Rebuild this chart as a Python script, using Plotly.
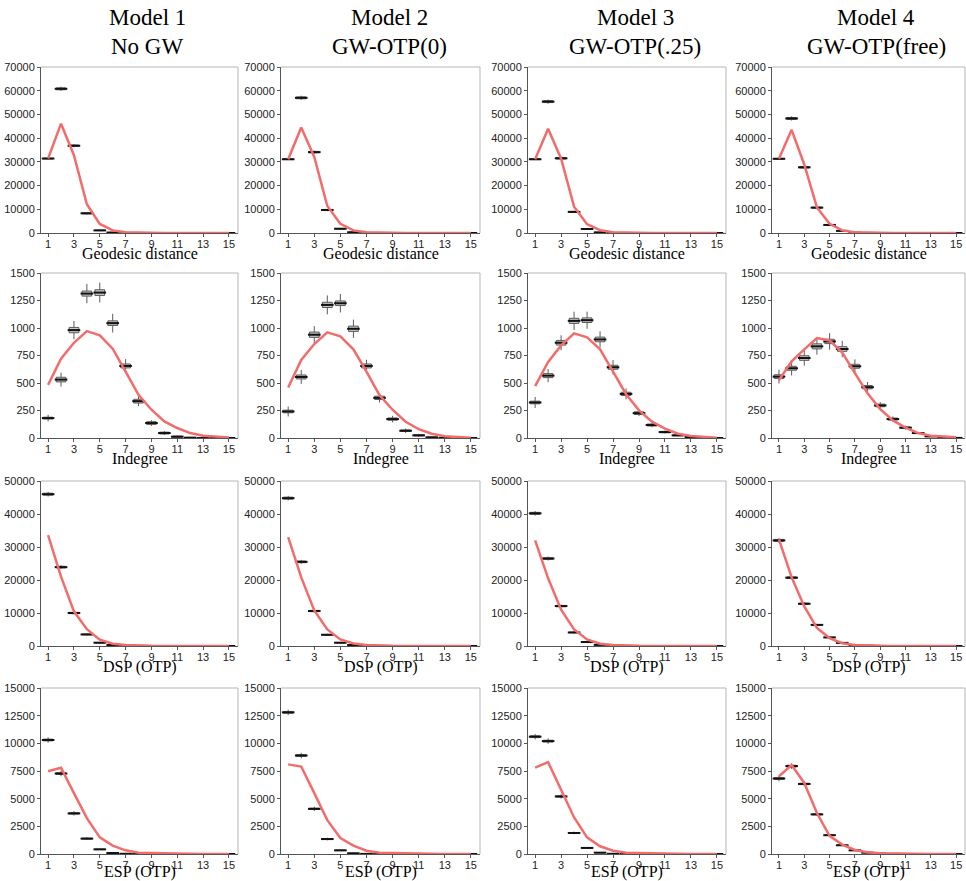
import plotly.graph_objects as go

W, H = 966, 881

x_vals = list(range(1, 16))
x_ticks = [1, 3, 5, 7, 9, 11, 13, 15]

col_titles_top = ["Model 1", "Model 2", "Model 3", "Model 4"]
col_titles_bottom = ["No GW", "GW-OTP(0)", "GW-OTP(.25)", "GW-OTP(free)"]
row_titles = ["Geodesic distance", "Indegree", "DSP (OTP)", "ESP (OTP)"]
y_max = [70000, 1500, 50000, 15000]
y_dtick = [10000, 250, 10000, 2500]

# ---------------- Geodesic distance ----------------
geo_med_m1 = [31400, 60800, 36800, 8300, 1100, 200, 30, 0, 0, 0, 0, 0, 0, 0, 0]
geo_med_m2 = [31100, 57000, 34100, 9700, 1800, 300, 40, 0, 0, 0, 0, 0, 0, 0, 0]
geo_med_m3 = [31100, 55400, 31500, 8900, 1700, 250, 30, 0, 0, 0, 0, 0, 0, 0, 0]
geo_med_m4 = [31300, 48300, 27700, 10700, 3400, 900, 150, 20, 0, 0, 0, 0, 0, 0, 0]
geo_box_half = [150, 400, 300, 200, 100, 30, 10, 0, 0, 0, 0, 0, 0, 0, 0]
geo_whisk_half = [300, 900, 700, 500, 250, 80, 20, 0, 0, 0, 0, 0, 0, 0, 0]
geo_obs_m1 = [31400, 46100, 32800, 12100, 3800, 1100, 300, 100, 30, 10, 0, 0, 0, 0, 0]
geo_obs_m2 = [31100, 44500, 32100, 11400, 3900, 1100, 300, 100, 30, 10, 0, 0, 0, 0, 0]
geo_obs_m3 = [31100, 44000, 31300, 11100, 3700, 1200, 300, 100, 30, 10, 0, 0, 0, 0, 0]
geo_obs_m4 = [31300, 43500, 28900, 10800, 3900, 1100, 300, 100, 30, 10, 0, 0, 0, 0, 0]

# ---------------- Indegree ----------------
ind_med_m1 = [181, 531, 981, 1313, 1322, 1044, 655, 335, 136, 45, 12, 3, 0, 0, 0]
ind_med_m2 = [241, 555, 939, 1210, 1225, 993, 655, 365, 172, 66, 24, 6, 1, 0, 0]
ind_med_m3 = [323, 567, 866, 1065, 1071, 896, 643, 401, 226, 118, 54, 24, 9, 3, 0]
ind_med_m4 = [558, 634, 727, 833, 878, 809, 652, 462, 296, 172, 94, 45, 15, 6, 1]
ind_box_half_m1 = [8, 21, 24, 23, 26, 21, 18, 17, 12, 8, 5, 2, 1, 0, 0]
ind_box_half_m2 = [12, 18, 24, 24, 21, 24, 18, 15, 10, 7, 5, 2, 1, 0, 0]
ind_box_half_m3 = [12, 18, 21, 23, 21, 21, 18, 15, 12, 9, 6, 4, 2, 1, 0]
ind_box_half_m4 = [17, 18, 21, 23, 20, 21, 18, 15, 12, 9, 7, 5, 3, 1, 0]
ind_whisk_half_m1 = [30, 63, 83, 88, 90, 85, 62, 45, 27, 18, 10, 5, 2, 0, 0]
ind_whisk_half_m2 = [45, 63, 78, 86, 84, 83, 56, 42, 30, 20, 12, 6, 3, 1, 0]
ind_whisk_half_m3 = [50, 60, 68, 83, 78, 74, 66, 50, 27, 20, 14, 8, 5, 2, 0]
ind_whisk_half_m4 = [63, 66, 70, 75, 75, 74, 63, 47, 30, 24, 18, 10, 6, 3, 1]
ind_obs_m1 = [483, 721, 866, 972, 933, 812, 604, 392, 257, 151, 91, 45, 21, 12, 5]
ind_obs_m2 = [459, 709, 854, 960, 924, 806, 604, 389, 257, 148, 81, 39, 15, 6, 2]
ind_obs_m3 = [471, 691, 842, 951, 915, 806, 604, 398, 251, 148, 85, 39, 18, 9, 3]
ind_obs_m4 = [525, 697, 806, 908, 887, 776, 589, 407, 263, 160, 94, 45, 21, 12, 6]

# ---------------- DSP (OTP) ----------------
dsp_med_m1 = [46000, 23900, 10000, 3500, 1000, 300, 100, 30, 0, 0, 0, 0, 0, 0, 0]
dsp_med_m2 = [44800, 25500, 10600, 3400, 1000, 300, 80, 20, 0, 0, 0, 0, 0, 0, 0]
dsp_med_m3 = [40200, 26500, 12100, 4100, 1200, 350, 100, 30, 0, 0, 0, 0, 0, 0, 0]
dsp_med_m4 = [32000, 20700, 12800, 6400, 2600, 950, 300, 100, 30, 0, 0, 0, 0, 0, 0]
dsp_box_half = [300, 250, 200, 100, 50, 20, 10, 0, 0, 0, 0, 0, 0, 0, 0]
dsp_whisk_half = [700, 600, 450, 300, 150, 60, 20, 0, 0, 0, 0, 0, 0, 0, 0]
dsp_obs_m1 = [33600, 21000, 10500, 5100, 1900, 700, 300, 100, 40, 20, 10, 0, 0, 0, 0]
dsp_obs_m2 = [33000, 20800, 10800, 5000, 2000, 750, 300, 100, 40, 20, 10, 0, 0, 0, 0]
dsp_obs_m3 = [32000, 20500, 11000, 5000, 2000, 700, 300, 100, 40, 20, 10, 0, 0, 0, 0]
dsp_obs_m4 = [32300, 20800, 12000, 5500, 2400, 850, 300, 100, 40, 20, 10, 0, 0, 0, 0]

# ---------------- ESP (OTP) ----------------
esp_med_m1 = [10300, 7270, 3670, 1390, 420, 90, 20, 0, 0, 0, 0, 0, 0, 0, 0]
esp_med_m2 = [12800, 8900, 4080, 1350, 330, 60, 10, 0, 0, 0, 0, 0, 0, 0, 0]
esp_med_m3 = [10600, 10200, 5200, 1900, 550, 120, 20, 0, 0, 0, 0, 0, 0, 0, 0]
esp_med_m4 = [6820, 7940, 6330, 3580, 1700, 790, 330, 120, 40, 10, 0, 0, 0, 0, 0]
esp_box_half = [80, 80, 60, 40, 20, 10, 5, 0, 0, 0, 0, 0, 0, 0, 0]
esp_whisk_half = [250, 250, 200, 120, 60, 30, 10, 0, 0, 0, 0, 0, 0, 0, 0]
esp_obs_m1 = [7480, 7790, 5500, 3240, 1500, 760, 330, 120, 80, 50, 30, 20, 10, 5, 0]
esp_obs_m2 = [8100, 7900, 5500, 3060, 1440, 750, 300, 120, 80, 50, 30, 20, 10, 5, 0]
esp_obs_m3 = [7800, 8300, 5800, 3300, 1500, 700, 300, 120, 80, 50, 30, 20, 10, 5, 0]
esp_obs_m4 = [7030, 8030, 6420, 3700, 1640, 850, 360, 150, 60, 30, 20, 10, 5, 0, 0]

panels = [
    [(geo_med_m1, geo_box_half, geo_whisk_half, geo_obs_m1),
     (geo_med_m2, geo_box_half, geo_whisk_half, geo_obs_m2),
     (geo_med_m3, geo_box_half, geo_whisk_half, geo_obs_m3),
     (geo_med_m4, geo_box_half, geo_whisk_half, geo_obs_m4)],
    [(ind_med_m1, ind_box_half_m1, ind_whisk_half_m1, ind_obs_m1),
     (ind_med_m2, ind_box_half_m2, ind_whisk_half_m2, ind_obs_m2),
     (ind_med_m3, ind_box_half_m3, ind_whisk_half_m3, ind_obs_m3),
     (ind_med_m4, ind_box_half_m4, ind_whisk_half_m4, ind_obs_m4)],
    [(dsp_med_m1, dsp_box_half, dsp_whisk_half, dsp_obs_m1),
     (dsp_med_m2, dsp_box_half, dsp_whisk_half, dsp_obs_m2),
     (dsp_med_m3, dsp_box_half, dsp_whisk_half, dsp_obs_m3),
     (dsp_med_m4, dsp_box_half, dsp_whisk_half, dsp_obs_m4)],
    [(esp_med_m1, esp_box_half, esp_whisk_half, esp_obs_m1),
     (esp_med_m2, esp_box_half, esp_whisk_half, esp_obs_m2),
     (esp_med_m3, esp_box_half, esp_whisk_half, esp_obs_m3),
     (esp_med_m4, esp_box_half, esp_whisk_half, esp_obs_m4)],
]

# layout geometry (pixels)
col_px = [(41, 238), (281, 480), (528, 726), (772, 965)]
row_px = [(67, 233), (273, 438), (481, 646), (688, 854)]
title_gap = [21, 21, 21, 18]

TICK_FONT = dict(family="Liberation Sans, Arial, sans-serif", size=11, color="#222222")
SERIF = "Liberation Serif, Times New Roman, serif"
RED = "#F26C6C"

fig = go.Figure()
layout = dict(
    width=W, height=H, autosize=False,
    margin=dict(l=0, r=0, t=0, b=0, autoexpand=False),
    paper_bgcolor="white", plot_bgcolor="white",
    showlegend=False,
)
shapes = []
annotations = []

for r in range(4):
    for c in range(4):
        idx = r * 4 + c + 1
        xa = "x" if idx == 1 else f"x{idx}"
        ya = "y" if idx == 1 else f"y{idx}"
        xkey = "xaxis" if idx == 1 else f"xaxis{idx}"
        ykey = "yaxis" if idx == 1 else f"yaxis{idx}"
        med, bh, wh, obs = panels[r][c]
        q1 = [max(0, m - b) for m, b in zip(med, bh)]
        q3 = [m + b for m, b in zip(med, bh)]
        lo = [max(0, m - w) for m, w in zip(med, wh)]
        hi = [m + w for m, w in zip(med, wh)]
        fig.add_trace(go.Box(
            x=x_vals, q1=q1, median=med, q3=q3, lowerfence=lo, upperfence=hi,
            width=0.75, whiskerwidth=0, fillcolor="#c8c8c8",
            line=dict(color="#5a5a5a", width=1),
            boxpoints=False, xaxis=xa, yaxis=ya, hoverinfo="skip",
        ))
        fig.add_trace(go.Scatter(
            x=x_vals, y=med, mode="markers",
            marker=dict(symbol="line-ew", size=9, line=dict(color="#111111", width=2)),
            xaxis=xa, yaxis=ya, hoverinfo="skip",
        ))
        fig.add_trace(go.Scatter(
            x=x_vals, y=obs, mode="lines",
            line=dict(color=RED, width=2.5),
            xaxis=xa, yaxis=ya, hoverinfo="skip",
        ))
        x0, x1 = col_px[c]
        y0, y1 = row_px[r]
        layout[xkey] = dict(
            domain=[x0 / W, x1 / W], anchor=ya, range=[0.45, 15.7],
            tickmode="array", tickvals=x_ticks, ticks="outside", ticklen=3,
            ticklabelstandoff=-2,
            tickcolor="#555555", showline=True, linecolor="#555555", linewidth=1,
            showgrid=False, zeroline=False, tickfont=TICK_FONT, automargin=False,
        )
        layout[ykey] = dict(
            domain=[1 - y1 / H, 1 - y0 / H], anchor=xa, range=[0, y_max[r]],
            dtick=y_dtick[r], tick0=0, tickformat="d", ticks="outside", ticklen=3,
            tickcolor="#555555", showline=True, linecolor="#555555", linewidth=1,
            showgrid=False, zeroline=False, tickfont=TICK_FONT, automargin=False,
        )
        # light top/right frame
        shapes.append(dict(type="line", xref="paper", yref="paper",
                           x0=x0 / W, x1=x1 / W, y0=1 - y0 / H, y1=1 - y0 / H,
                           line=dict(color="#b5b5b5", width=1)))
        shapes.append(dict(type="line", xref="paper", yref="paper",
                           x0=x1 / W, x1=x1 / W, y0=1 - y0 / H, y1=1 - y1 / H,
                           line=dict(color="#b5b5b5", width=1)))
        # axis title
        annotations.append(dict(
            text=row_titles[r], xref="paper", yref="paper",
            x=(x0 + x1) / 2 / W, y=1 - (y1 + title_gap[r]) / H,
            xanchor="center", yanchor="middle", showarrow=False,
            font=dict(family=SERIF, size=16, color="black"),
        ))

title_x = [147, 389, 635, 876]
for c in range(4):
    annotations.append(dict(
        text=col_titles_top[c], xref="paper", yref="paper",
        x=title_x[c] / W, y=1 - 17 / H, xanchor="center", yanchor="middle",
        showarrow=False, font=dict(family=SERIF, size=23, color="black")))
    annotations.append(dict(
        text=col_titles_bottom[c], xref="paper", yref="paper",
        x=title_x[c] / W, y=1 - 47 / H, xanchor="center", yanchor="middle",
        showarrow=False, font=dict(family=SERIF, size=23, color="black")))

layout["shapes"] = shapes
layout["annotations"] = annotations
fig.update_layout(**layout)
fig.write_html(
    "out.html",
    config={"responsive": False, "displayModeBar": False},
    post_script="document.body.style.margin='0px';document.body.style.overflow='hidden';",
)
